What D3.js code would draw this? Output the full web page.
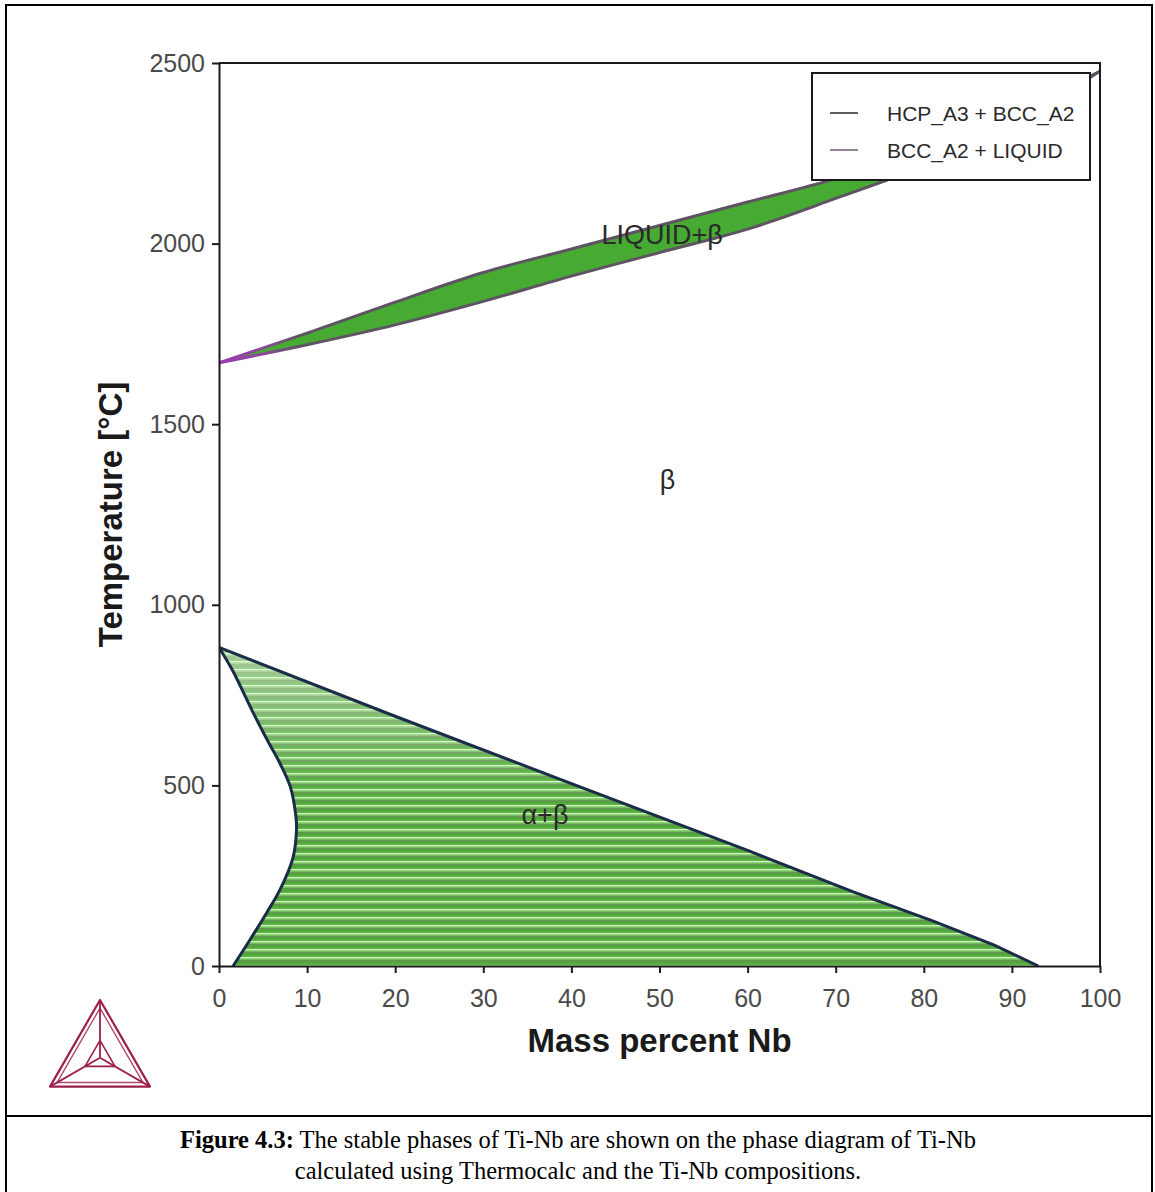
<!DOCTYPE html>
<html>
<head>
<meta charset="utf-8">
<script src="https://cdn.jsdelivr.net/npm/d3@7"></script>
<style>
  html, body { margin: 0; padding: 0; background: #fff; }
  svg { display: block; }
</style>
</head>
<body>
<script>
// Ti-Nb phase diagram (Thermo-Calc style), mass percent Nb vs temperature

// axis ticks
const massTicks = [0, 10, 20, 30, 40, 50, 60, 70, 80, 90, 100];
const tempTicks = [0, 500, 1000, 1500, 2000, 2500];

// BCC_A2 + LIQUID two-phase band
const meltComp = [0, 10, 20, 30, 40, 50, 60, 70, 80, 90, 100];
const liquidusT = [1670, 1752, 1838, 1920, 1985, 2050, 2115, 2180, 2260, 2360, 2477];
const solidusT  = [1670, 1720, 1775, 1840, 1910, 1975, 2040, 2125, 2215, 2330, 2477];

// HCP_A3 + BCC_A2 region: alpha-side boundary (top to bottom)
const alphaComp = [0, 1.5, 3.9, 5.6, 6.9, 8.1, 8.7, 8.8, 8.4, 6.9, 5.4, 3.5, 1.6];
const alphaT    = [882, 820, 700, 620, 562, 496, 420, 380, 300, 210, 147, 72, 0];
// beta transus (top to bottom)
const betaComp = [0, 19.4, 40, 60, 72, 81, 88, 93];
const betaT    = [882, 697, 505, 320, 205, 125, 58, 0];

// phase-field labels
const fieldLabels = [
  { text: "LIQUID+\u03B2", mass: 50.3, temp: 2024 },
  { text: "\u03B2",        mass: 50.9, temp: 1345 },
  { text: "\u03B1+\u03B2", mass: 37.0, temp: 418 }
];

// legend entries
const legendNames  = ["HCP_A3 + BCC_A2", "BCC_A2 + LIQUID"];
const legendColors = ["#2a2a2a", "#6e5a72"];

(function draw() {
  const W = 1155, H = 1192;
  const svg = d3.select("body").append("svg").attr("width", W).attr("height", H);

  const x = d3.scaleLinear().domain([0, 100]).range([219, 1100]);
  const y = d3.scaleLinear().domain([0, 2500]).range([966, 63]);

  const defs = svg.append("defs");

  // tie-line hatching for the alpha+beta field
  const pat = defs.append("pattern")
    .attr("id", "tielines").attr("patternUnits", "userSpaceOnUse")
    .attr("width", 20).attr("height", 8);
  pat.append("rect").attr("width", 20).attr("height", 8).attr("fill", "#5b9d47");
  pat.append("rect").attr("y", 3).attr("width", 20).attr("height", 2).attr("fill", "#52b53a");
  pat.append("rect").attr("y", 5).attr("width", 20).attr("height", 1.6).attr("fill", "#d9f4c9");
  pat.append("rect").attr("y", 6.6).attr("width", 20).attr("height", 1.4).attr("fill", "#72c25a");

  // paler upper part of the alpha+beta field
  const fade = defs.append("linearGradient").attr("id", "fade")
    .attr("gradientUnits", "userSpaceOnUse")
    .attr("x1", 0).attr("x2", 0).attr("y1", y(880)).attr("y2", y(450));
  fade.append("stop").attr("offset", 0).attr("stop-color", "#fff").attr("stop-opacity", 0.45);
  fade.append("stop").attr("offset", 1).attr("stop-color", "#fff").attr("stop-opacity", 0);

  // melt-band boundary colour: purple at the Ti end, grey-purple elsewhere
  const edge = defs.append("linearGradient").attr("id", "meltEdge")
    .attr("gradientUnits", "userSpaceOnUse")
    .attr("x1", x(0)).attr("x2", x(9)).attr("y1", 0).attr("y2", 0);
  edge.append("stop").attr("offset", 0).attr("stop-color", "#9b3bb5");
  edge.append("stop").attr("offset", 0.55).attr("stop-color", "#8a4a95");
  edge.append("stop").attr("offset", 1).attr("stop-color", "#5f5363");

  defs.append("clipPath").attr("id", "plotClip").append("rect")
    .attr("x", x(0)).attr("y", y(2500)).attr("width", x(100) - x(0)).attr("height", y(0) - y(2500));

  const plot = svg.append("g").attr("clip-path", "url(#plotClip)");

  // ---- alpha + beta field ----
  const alphaPts = alphaComp.map((c, i) => [c, alphaT[i]]);
  const betaPts = betaComp.map((c, i) => [c, betaT[i]]);

  const smooth = d3.line().x(d => x(d[0])).y(d => y(d[1])).curve(d3.curveCatmullRom.alpha(0.5));
  const straight = d3.line().x(d => x(d[0])).y(d => y(d[1]));

  const alphaPath = smooth(alphaPts);
  const betaUpPath = straight(betaPts.slice().reverse()); // bottom to top
  const fieldPath = alphaPath + "L" + betaUpPath.slice(1) + "Z";

  plot.append("path").attr("d", fieldPath).attr("fill", "url(#tielines)");
  plot.append("path").attr("d", fieldPath).attr("fill", "url(#fade)");

  plot.append("path").attr("d", alphaPath)
    .attr("fill", "none").attr("stroke", "#1b2c48").attr("stroke-width", 3);
  plot.append("path").attr("d", straight(betaPts))
    .attr("fill", "none").attr("stroke", "#1b2c48").attr("stroke-width", 3);

  // ---- liquid + beta band ----
  const liqPts = meltComp.map((c, i) => [c, liquidusT[i]]);
  const solPts = meltComp.map((c, i) => [c, solidusT[i]]);
  const meltLine = d3.line().x(d => x(d[0])).y(d => y(d[1])).curve(d3.curveMonotoneX);
  const liqPath = meltLine(liqPts);
  const solBack = meltLine(solPts.slice().reverse());
  plot.append("path").attr("d", liqPath + "L" + solBack.slice(1) + "Z")
    .attr("fill", "#46aa33");
  plot.append("path").attr("d", liqPath)
    .attr("fill", "none").attr("stroke", "url(#meltEdge)").attr("stroke-width", 3);
  plot.append("path").attr("d", meltLine(solPts))
    .attr("fill", "none").attr("stroke", "url(#meltEdge)").attr("stroke-width", 3);

  // ---- axes and frame ----
  const sans = "'Liberation Sans', Arial, sans-serif";

  const gx = svg.append("g").attr("transform", `translate(0,${y(0)})`)
    .call(d3.axisBottom(x).tickValues(massTicks).tickFormat(d3.format("d"))
      .tickSize(7).tickPadding(16).tickSizeOuter(0));
  const gy = svg.append("g").attr("transform", `translate(${x(0)},0)`)
    .call(d3.axisLeft(y).tickValues(tempTicks).tickFormat(d3.format("d"))
      .tickSize(7).tickPadding(7).tickSizeOuter(0));

  [gx, gy].forEach(g => {
    g.select(".domain").attr("stroke", "#1a1a1a").attr("stroke-width", 2);
    g.selectAll(".tick line").attr("stroke", "#1a1a1a").attr("stroke-width", 2);
    g.selectAll(".tick text").attr("fill", "#4a4a4a")
      .style("font-family", sans).style("font-size", "25px");
  });

  // top and right edges of the plot box
  svg.append("path")
    .attr("d", `M${x(0)},${y(2500)}H${x(100)}V${y(0)}`)
    .attr("fill", "none").attr("stroke", "#1a1a1a").attr("stroke-width", 2);

  // axis titles
  svg.append("text")
    .attr("x", (x(0) + x(100)) / 2).attr("y", 1052)
    .attr("text-anchor", "middle")
    .style("font-family", sans).style("font-size", "33px").style("font-weight", "bold")
    .attr("fill", "#1a1a1a")
    .text("Mass percent Nb");

  svg.append("text")
    .attr("transform", `translate(122,${(y(0) + y(2500)) / 2}) rotate(-90)`)
    .attr("text-anchor", "middle")
    .style("font-family", sans).style("font-size", "33px").style("font-weight", "bold")
    .attr("fill", "#1a1a1a")
    .text("Temperature [\u00B0C]");

  // phase-field labels
  svg.selectAll("text.field").data(fieldLabels).enter().append("text")
    .attr("class", "field")
    .attr("x", d => x(d.mass)).attr("y", d => y(d.temp))
    .attr("text-anchor", "middle").attr("dominant-baseline", "central")
    .style("font-family", sans).style("font-size", "27px")
    .attr("fill", "#2a2a2a")
    .text(d => d.text);

  // ---- legend ----
  const lg = svg.append("g").attr("transform", "translate(812,73)");
  lg.append("rect").attr("width", 278).attr("height", 107)
    .attr("fill", "#fff").attr("stroke", "#1a1a1a").attr("stroke-width", 2);
  legendNames.forEach((name, i) => {
    const yy = 40 + i * 37;
    lg.append("line").attr("x1", 18).attr("x2", 46).attr("y1", yy).attr("y2", yy)
      .attr("stroke", legendColors[i]).attr("stroke-width", 1.5);
    lg.append("text").attr("x", 75).attr("y", yy).attr("dominant-baseline", "central")
      .style("font-family", sans).style("font-size", "21px")
      .attr("fill", "#2a2a2a").text(name);
  });

  // ---- Thermo-Calc logo ----
  const logo = svg.append("g").attr("fill", "none").attr("stroke", "#9c1f4c")
    .attr("stroke-linejoin", "round");
  const lcx = 100, apexY = 1000, side = 100;
  const hgt = side * Math.sqrt(3) / 2;
  const A = [lcx, apexY], B = [lcx - side / 2, apexY + hgt], C = [lcx + side / 2, apexY + hgt];
  const G = [lcx, apexY + hgt * 2 / 3];
  const tri = (p, s) => {
    const q = p.map(v => [G[0] + (v[0] - G[0]) * s, G[1] + (v[1] - G[1]) * s]);
    return `M${q[0]}L${q[1]}L${q[2]}Z`;
  };
  logo.append("path").attr("d", tri([A, B, C], 1)).attr("stroke-width", 2.2);
  logo.append("path").attr("d", tri([A, B, C], 0.86)).attr("stroke-width", 1.4).attr("stroke", "#b04a6e");
  logo.append("path").attr("d", tri([A, B, C], 0.3)).attr("stroke-width", 1.6);
  [A, B, C].forEach(v => {
    logo.append("line").attr("x1", G[0]).attr("y1", G[1]).attr("x2", v[0]).attr("y2", v[1])
      .attr("stroke-width", 1.8);
  });

  // ---- figure frame and caption ----
  const frame = svg.append("g").attr("stroke", "#000").attr("fill", "none");
  frame.append("path").attr("d", `M6,${H}V5H1152V${H}`).attr("stroke-width", 2);
  frame.append("line").attr("x1", 6).attr("x2", 1152).attr("y1", 1116).attr("y2", 1116).attr("stroke-width", 2);

  const serif = "'Liberation Serif', 'Times New Roman', serif";
  const cap = svg.append("text").attr("x", 578).attr("y", 1148).attr("text-anchor", "middle")
    .style("font-family", serif).style("font-size", "24.5px").attr("fill", "#000");
  cap.append("tspan").style("font-weight", "bold").text("Figure 4.3:");
  cap.append("tspan").text(" The stable phases of Ti-Nb are shown on the phase diagram of Ti-Nb");
  svg.append("text").attr("x", 578).attr("y", 1179).attr("text-anchor", "middle")
    .style("font-family", serif).style("font-size", "24.5px").attr("fill", "#000")
    .text("calculated using Thermocalc and the Ti-Nb compositions.");
})();
</script>
</body>
</html>
